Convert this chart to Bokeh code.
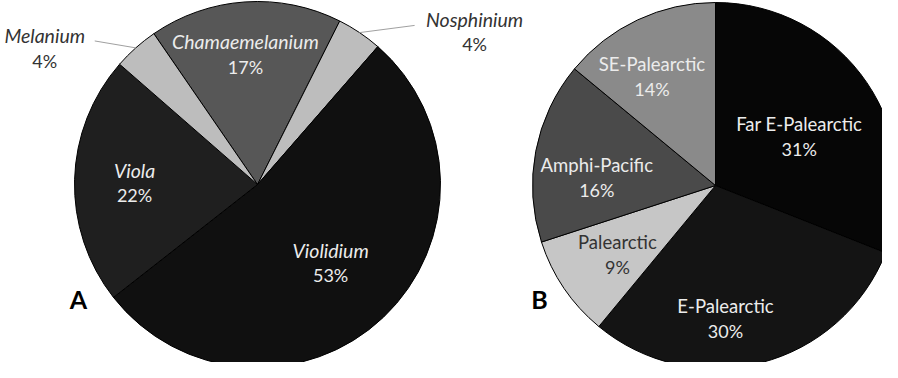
import math
from bokeh.plotting import figure
from bokeh.models import ColumnDataSource
from bokeh.core.properties import value
from bokeh.embed import file_html
from bokeh.resources import INLINE

# ---- data ----
a_names = ["Chamaemelanium", "Nosphinium", "Violidium", "Viola", "Melanium"]
a_pct = [17, 4, 53, 22, 4]
b_names = ["Far E-Palearctic", "E-Palearctic", "Palearctic", "Amphi-Pacific", "SE-Palearctic"]
b_pct = [31, 30, 9, 16, 14]
panel_letters = ["A", "B"]

# ---- styles / layout ----
a_colors = ["#575757", "#bdbdbd", "#101010", "#1f1f1f", "#bdbdbd"]
b_colors = ["#060606", "#141414", "#c6c6c6", "#4a4a4a", "#8a8a8a"]
a_text_col = ["#ececec", "#333333", "#ececec", "#ececec", "#333333"]
b_text_col = ["#ececec", "#ececec", "#333333", "#ececec", "#ececec"]
a_lab_delta = [-1.4, 21.0, 0.4, -0.6, -15.7]
a_lab_frac = [0.714, 1.45, 0.585, 0.672, 1.38]
a_outside = [False, True, False, False, True]
b_lab_delta = [3.9, 10.1, -0.9, -7.0, -5.0]
b_lab_frac = [0.53, 0.73, 0.655, 0.65, 0.69]

W, H = 882, 362
R = 183
A_START = -34.5
B_START = 0.0


def to_data(X, Y):
    return X - 8, H + 8 - Y


p = figure(width=W, height=H, x_range=(0, W), y_range=(0, H),
           output_backend="svg", toolbar_location=None, min_border=0,
           outline_line_color=None)
p.axis.visible = False
p.grid.visible = False
p.background_fill_color = "white"
p.border_fill_color = "white"


def draw_pie(cx_ref, cy_ref, names, pct, colors, start, text_cols, deltas, fracs,
             italic, outside, lead_ends):
    cx, cy = to_data(cx_ref, cy_ref)
    total = float(sum(pct))
    starts, ends, mids = [], [], []
    acc = start
    for v in pct:
        s = acc
        e = acc + 360.0 * v / total
        starts.append(math.radians(90 - s))
        ends.append(math.radians(90 - e))
        mids.append((s + e) / 2)
        acc = e
    src = ColumnDataSource(dict(x=[cx] * len(pct), y=[cy] * len(pct),
                                sa=starts, ea=ends, c=colors))
    p.wedge(x="x", y="y", radius=R, start_angle="sa", end_angle="ea",
            direction="clock", fill_color="c", line_color="#000000",
            line_width=1, source=src)
    lx, ly1, ly2, txt1, txt2, tc = [], [], [], [], [], []
    for i, n in enumerate(names):
        ang = math.radians(mids[i] + deltas[i])
        x = cx + R * fracs[i] * math.sin(ang)
        y = cy + R * fracs[i] * math.cos(ang)
        lx.append(x)
        ly1.append(y + 12.5)
        ly2.append(y - 12.5)
        txt1.append(n)
        txt2.append(f"{pct[i]}%")
        tc.append(text_cols[i])
        if outside[i]:
            ma = math.radians(mids[i])
            x0 = cx + R * math.sin(ma)
            y0 = cy + R * math.cos(ma)
            ex, ey = lead_ends[i]
            p.line([x0, x + ex], [y0, y + 12.5 + ey], line_color="#a0a0a0", line_width=1)
    ts = ColumnDataSource(dict(x=lx, y1=ly1, y2=ly2, t1=txt1, t2=txt2, c=tc))
    p.text(x="x", y="y1", text="t1", source=ts, text_color="c",
           text_font=value("Lato"), text_font_size="19.5px" if italic else "18.5px",
           text_font_style="italic" if italic else "normal",
           text_align="center", text_baseline="middle")
    p.text(x="x", y="y2", text="t2", source=ts, text_color="c",
           text_font=value("Lato"), text_font_size="18px",
           text_align="center", text_baseline="middle")


a_leads = [None, (-60, -6), None, None, (50, -5)]
draw_pie(265, 192, a_names, a_pct, a_colors, A_START, a_text_col, a_lab_delta,
         a_lab_frac, True, a_outside, a_leads)
draw_pie(723, 193, b_names, b_pct, b_colors, B_START, b_text_col, b_lab_delta,
         b_lab_frac, False, [False] * 5, [None] * 5)

lx, ly = zip(to_data(86, 306), to_data(547, 306))
p.text(x=list(lx), y=list(ly), text=panel_letters, text_color="#000000",
       text_font=value("Lato"), text_font_size="25px", text_font_style="bold",
       text_align="center", text_baseline="middle")

open("out.html", "w").write(file_html(p, INLINE))
